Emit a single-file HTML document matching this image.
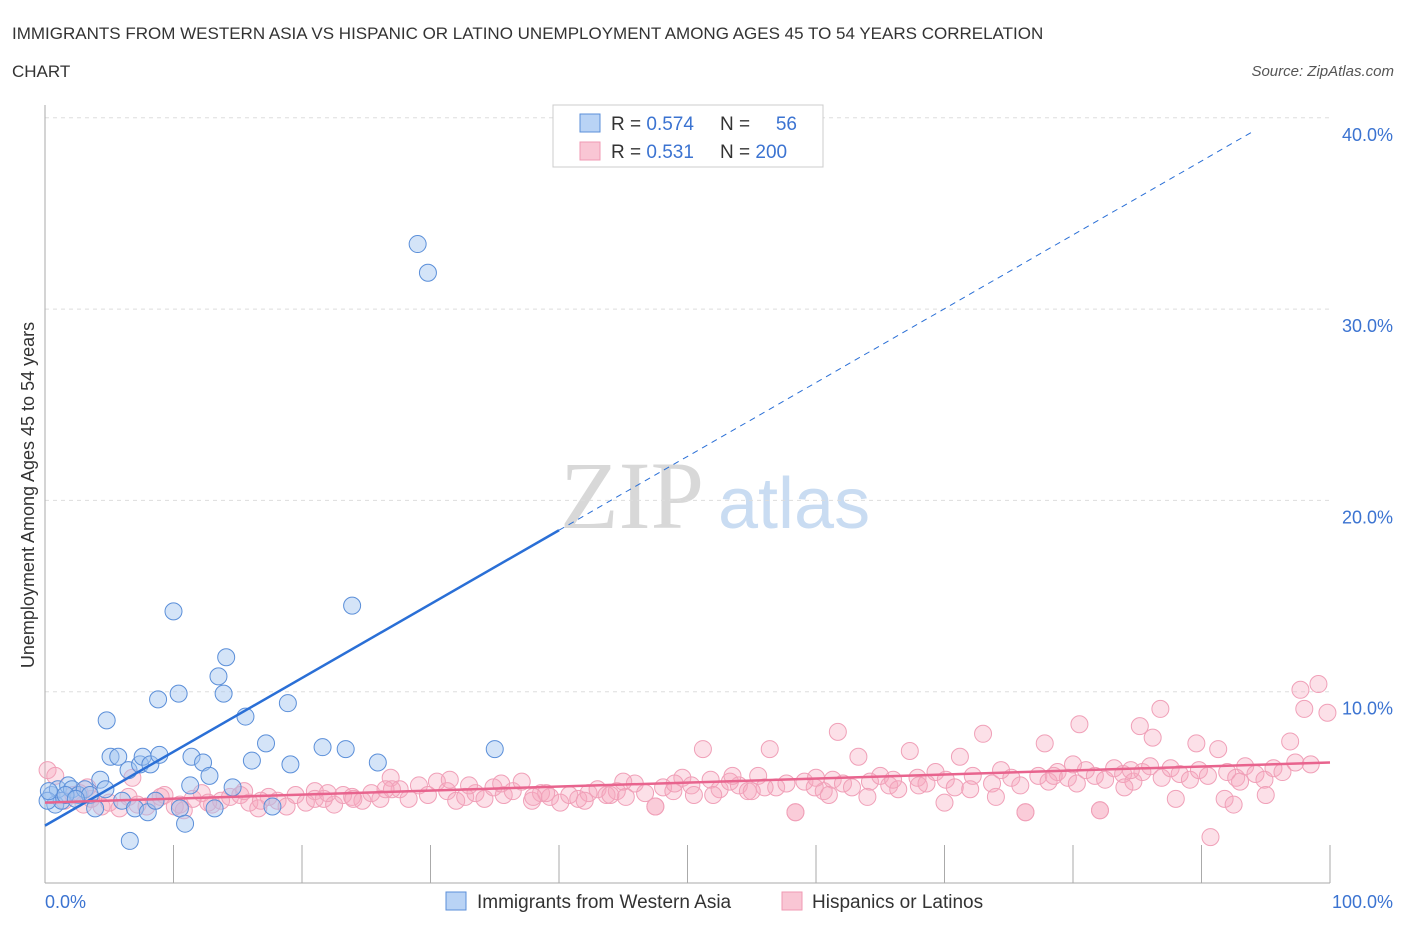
<!DOCTYPE html>
<html><head><meta charset="utf-8"><style>
body{margin:0;background:#fff;}
svg text{font-family:"Liberation Sans",sans-serif;}
</style></head><body>
<svg id="chart" width="1406" height="930" xmlns="http://www.w3.org/2000/svg">
<text x="12" y="39" font-size="17" fill="#333">IMMIGRANTS FROM WESTERN ASIA VS HISPANIC OR LATINO UNEMPLOYMENT AMONG AGES 45 TO 54 YEARS CORRELATION</text>
<text x="12" y="77" font-size="17" fill="#333">CHART</text>
<text x="1394" y="76" font-size="15" fill="#555" font-style="italic" text-anchor="end">Source: ZipAtlas.com</text>
<text x="560" y="528" font-size="96" fill="#d8d8d8" style="font-family:'Liberation Serif',serif">ZIP</text>
<text x="718" y="528" font-size="72" fill="#c9dcf2">atlas</text>
<text transform="translate(34,495) rotate(-90)" font-size="18" fill="#333" text-anchor="middle">Unemployment Among Ages 45 to 54 years</text>
<g id="grid"></g><g id="ticks"></g>
<line x1="45" y1="105" x2="45" y2="883" stroke="#aaa"/>
<line x1="45" y1="883" x2="1330" y2="883" stroke="#aaa"/>
<g id="pink"></g><g id="blue"></g><g id="trends"></g>
<text x="45" y="908" font-size="18" fill="#3b73d1">0.0%</text>
<text x="1393" y="908" font-size="18" fill="#3b73d1" text-anchor="end">100.0%</text>
<g>
<rect x="553" y="105" width="270" height="62" fill="#fff" stroke="#ccc"/>
<rect x="580" y="114" width="20" height="18" fill="#b9d3f5" stroke="#5b8fd9"/>
<rect x="580" y="142" width="20" height="18" fill="#f9c6d4" stroke="#f09ab3"/>
<text x="611" y="130" font-size="19" fill="#333">R = <tspan fill="#3b73d1">0.574</tspan></text>
<text x="720" y="130" font-size="19" fill="#333">N = </text><text x="797" y="130" font-size="19" fill="#3b73d1" text-anchor="end">56</text>
<text x="611" y="158" font-size="19" fill="#333">R = <tspan fill="#3b73d1"> 0.531</tspan></text>
<text x="720" y="158" font-size="19" fill="#333">N = <tspan fill="#3b73d1">200</tspan></text>
</g>
<g>
<rect x="446" y="892" width="20" height="18" fill="#b9d3f5" stroke="#5b8fd9"/>
<text x="477" y="908" font-size="19" fill="#333">Immigrants from Western Asia</text>
<rect x="782" y="892" width="20" height="18" fill="#f9c6d4" stroke="#f09ab3"/>
<text x="812" y="908" font-size="19" fill="#333">Hispanics or Latinos</text>
</g>
</svg>
<script>
const yTicks=[10,20,30,40];
const yTickLabels=["10.0%","20.0%","30.0%","40.0%"];
const xTicks=[0,10,20,30,40,50,60,70,80,90,100];
const blueX=[0.5,0.8,1.0,1.3,1.8,2.1,2.6,3.1,3.5,3.9,4.3,4.7,5.1,4.8,5.7,6.0,6.5,6.6,7.0,7.4,7.6,8.0,8.2,8.6,8.9,8.8,10.0,10.4,10.5,10.9,11.3,11.4,12.3,12.8,13.2,13.5,13.9,14.1,14.6,15.6,16.1,17.2,17.7,18.9,19.1,21.6,23.4,23.9,25.9,29.0,29.8,35.0,0.2,1.6,0.3,2.4];
const blueY=[4.6,4.1,4.9,4.3,5.1,4.9,4.6,4.9,4.6,3.9,5.4,4.9,6.6,8.5,6.6,4.3,5.9,2.2,3.9,6.2,6.6,3.7,6.2,4.3,6.7,9.6,14.2,9.9,3.9,3.1,5.1,6.6,6.3,5.6,3.9,10.8,9.9,11.8,5.0,8.7,6.4,7.3,4.0,9.4,6.2,7.1,7.0,14.5,6.3,33.4,31.9,7.0,4.3,4.6,4.8,4.4];
const pinkX=[0.2,0.8,1.5,2.2,3.0,3.6,4.4,5.0,5.8,6.5,7.2,7.9,8.6,9.3,10.1,10.8,11.5,12.2,13.0,13.7,14.4,15.2,15.9,16.6,17.4,18.1,18.8,19.5,20.3,21.0,21.7,22.5,23.2,23.9,24.7,25.4,26.1,26.9,27.6,28.3,29.1,29.8,30.5,31.3,32.0,32.7,33.5,34.2,34.9,35.7,36.4,37.1,37.9,38.6,39.3,40.1,40.8,41.5,42.3,43.0,43.7,44.5,45.2,45.9,46.7,47.5,48.1,48.9,49.6,50.3,51.2,51.8,52.5,53.3,54.0,54.7,55.5,56.4,56.9,57.7,58.4,59.1,59.9,60.6,61.3,61.7,62.1,62.8,63.3,64.2,65.0,65.7,66.4,67.3,67.9,68.6,69.3,70.1,70.8,71.2,72.2,73.0,73.7,74.4,75.2,75.9,76.3,77.3,77.8,78.1,78.8,79.6,80.3,80.5,81.0,81.7,82.1,82.5,83.2,83.9,84.7,85.2,85.4,86.2,86.8,86.9,87.6,88.3,89.1,89.6,89.8,90.5,90.7,91.3,92.0,92.7,93.4,94.2,94.9,95.6,96.3,96.9,97.3,97.7,98.0,99.1,99.8,3.3,9.0,15.5,21.0,27.0,33.0,39.0,45.0,50.5,56.0,61.0,66.0,72.0,78.5,84.0,88.0,93.0,47.5,58.4,76.3,82.1,91.8,10.5,22.0,35.5,42.0,53.5,64.0,70.0,86.0,95.0,2.7,12.7,26.5,31.5,38.0,44.0,49.0,55.0,60.0,68.0,74.0,80.0,84.5,92.5,98.5,6.8,16.8,24.0,52.0];
const pinkY=[5.9,5.6,4.3,4.6,4.1,4.4,4.0,4.2,3.9,4.5,4.1,4.0,4.3,4.6,4.0,3.8,4.4,4.7,4.1,4.3,4.5,4.6,4.2,3.9,4.5,4.3,4.0,4.6,4.2,4.8,4.4,4.1,4.6,4.5,4.3,4.7,4.4,5.5,4.9,4.4,5.1,4.6,5.3,4.8,4.3,4.5,4.7,4.4,5.0,4.6,4.8,5.3,4.3,4.7,4.5,4.2,4.6,4.4,4.7,4.9,4.6,4.8,4.5,5.2,4.7,4.0,5.0,4.8,5.5,5.1,7.0,5.4,4.9,5.3,5.1,4.8,5.6,7.0,5.0,5.2,3.7,5.3,5.0,4.8,5.4,7.9,5.2,5.0,6.6,5.3,5.6,5.1,4.9,6.9,5.5,5.2,5.8,5.4,5.0,6.6,5.6,7.8,5.2,5.9,5.5,5.1,3.7,5.6,7.3,5.3,5.8,5.5,5.2,8.3,5.9,5.6,3.8,5.4,6.0,5.7,5.3,8.2,5.8,7.6,9.1,5.5,6.0,5.7,5.4,7.3,5.9,5.6,2.4,7.0,5.8,5.5,6.1,5.7,5.4,6.0,5.8,7.4,6.3,10.1,9.1,10.4,8.9,5.0,4.5,4.8,4.4,4.9,5.1,4.7,5.3,4.6,5.0,4.6,5.4,4.9,5.6,5.0,4.4,5.3,4.0,3.7,3.7,3.8,4.4,4.1,4.7,5.2,4.3,5.6,4.5,4.2,6.1,4.6,4.7,4.2,4.9,5.4,4.5,4.6,5.2,4.8,5.5,5.1,4.5,6.2,5.9,4.1,6.2,5.5,4.3,4.4,4.6];
const X0=45,X1=1330,Y0=883,PPY=19.13;
const sx=v=>X0+(X1-X0)*v/100, sy=v=>Y0-v*PPY;
const NS="http://www.w3.org/2000/svg";
function mk(tag,attrs,parent){const e=document.createElementNS(NS,tag);for(const k in attrs)e.setAttribute(k,attrs[k]);document.getElementById(parent).appendChild(e);return e;}
yTicks.forEach((t,i)=>{
 const l=mk('line',{x1:45,x2:1330,y1:sy(t),y2:sy(t),stroke:'#ddd','stroke-dasharray':'4,4'},'grid');
 
 
 const tx=mk('text',{x:1393,y:sy(t)+23,'font-size':18,fill:'#3b73d1','text-anchor':'end'},'grid');
 tx.textContent=yTickLabels[i];
 
 
});
xTicks.forEach(t=>{
 const l=mk('line',{x1:sx(t),x2:sx(t),y1:845,y2:883,stroke:'#aaa'},'ticks');
 
 
});
pinkX.forEach((x,i)=>{
 const c=mk('circle',{cx:sx(x),cy:sy(pinkY[i]),r:8.5,fill:'rgba(245,165,188,0.35)',stroke:'#f0a0b8','stroke-width':1},'pink');
 
 
});
blueX.forEach((x,i)=>{
 const c=mk('circle',{cx:sx(x),cy:sy(blueY[i]),r:8.5,fill:'rgba(160,196,240,0.45)',stroke:'#5b8fd9','stroke-width':1},'blue');
 
 
});
const bA=3.0,bB=0.386,pA=4.2,pB=0.021;
const t1=mk('line',{x1:sx(0),y1:sy(bA),x2:sx(40),y2:sy(bA+bB*40),stroke:'#2a6fd6','stroke-width':2.5},'trends');


const t2=mk('line',{x1:sx(40),y1:sy(bA+bB*40),x2:sx(94.1),y2:sy(bA+bB*94.1),stroke:'#2a6fd6','stroke-width':1,'stroke-dasharray':'6,5'},'trends');


const t3=mk('line',{x1:sx(0),y1:sy(pA),x2:sx(100),y2:sy(pA+pB*100),stroke:'#e8648e','stroke-width':2.5},'trends');


</script>
</body></html>
